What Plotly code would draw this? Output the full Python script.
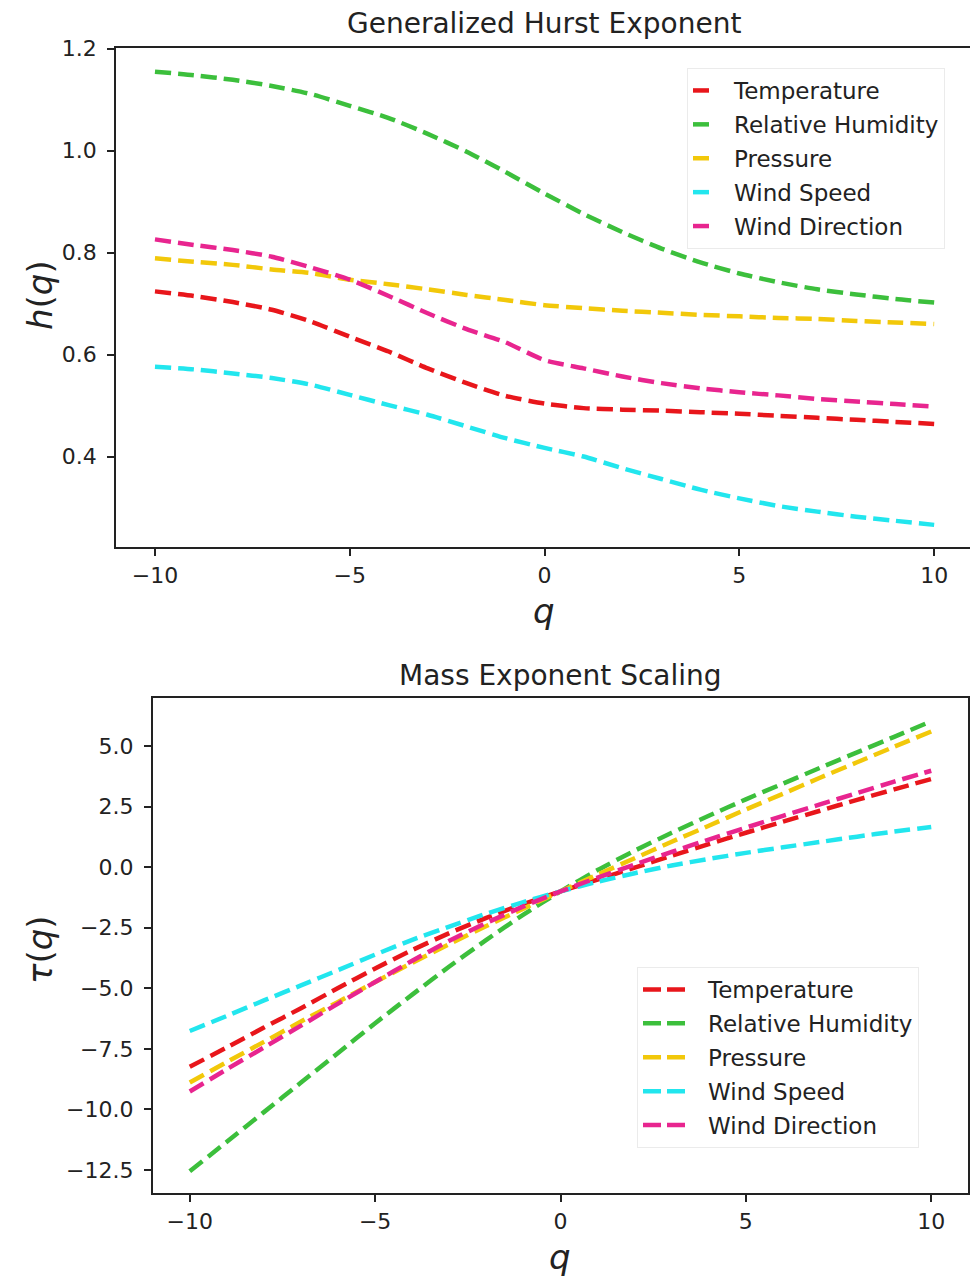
import plotly.graph_objects as go

W, H = 970, 1279

q = [-10, -9, -8, -7, -6, -5, -4, -3, -2, -1, 0, 1, 2, 3, 4, 5, 6, 7, 8, 9, 10]
names = ["Temperature", "Relative Humidity", "Pressure", "Wind Speed", "Wind Direction"]
colors = ["#e8161b", "#3cbf3c", "#f2c80a", "#22e6ee", "#e8258f"]

h_temperature = [0.724, 0.715, 0.703, 0.688, 0.665, 0.635, 0.606, 0.573, 0.544, 0.519, 0.504,
                 0.495, 0.492, 0.490, 0.487, 0.484, 0.480, 0.476, 0.472, 0.468, 0.464]
h_humidity = [1.155, 1.148, 1.139, 1.127, 1.111, 1.088, 1.064, 1.033, 0.998, 0.958, 0.916,
              0.876, 0.840, 0.808, 0.781, 0.759, 0.742, 0.728, 0.718, 0.709, 0.702]
h_pressure = [0.789, 0.782, 0.776, 0.767, 0.760, 0.747, 0.738, 0.728, 0.717, 0.707, 0.697,
              0.691, 0.686, 0.682, 0.678, 0.675, 0.672, 0.670, 0.666, 0.663, 0.660]
h_windspeed = [0.576, 0.571, 0.563, 0.554, 0.541, 0.521, 0.501, 0.482, 0.459, 0.436, 0.417,
               0.400, 0.377, 0.356, 0.335, 0.318, 0.303, 0.292, 0.282, 0.274, 0.266]
h_winddir = [0.826, 0.815, 0.805, 0.792, 0.771, 0.747, 0.715, 0.681, 0.650, 0.624, 0.589,
             0.573, 0.557, 0.544, 0.534, 0.526, 0.520, 0.513, 0.508, 0.503, 0.498]

tau_temperature = [-8.24, -7.44, -6.62, -5.82, -4.99, -4.18, -3.42, -2.72, -2.09, -1.52, -1.00,
                   -0.51, -0.02, 0.47, 0.95, 1.42, 1.88, 2.33, 2.78, 3.21, 3.64]
tau_humidity = [-12.55, -11.33, -10.11, -8.89, -7.67, -6.44, -5.26, -4.10, -3.00, -1.96, -1.00,
                -0.12, 0.68, 1.42, 2.12, 2.80, 3.45, 4.10, 4.74, 5.38, 6.02]
tau_pressure = [-8.89, -8.04, -7.21, -6.37, -5.56, -4.74, -3.95, -3.18, -2.43, -1.71, -1.00,
                -0.31, 0.37, 1.05, 1.71, 2.38, 3.03, 3.69, 4.33, 4.97, 5.60]
tau_windspeed = [-6.76, -6.14, -5.50, -4.88, -4.25, -3.61, -3.00, -2.45, -1.92, -1.44, -1.00,
                 -0.60, -0.25, 0.07, 0.34, 0.59, 0.82, 1.04, 1.26, 1.47, 1.66]
tau_winddir = [-9.26, -8.34, -7.44, -6.54, -5.63, -4.74, -3.86, -3.04, -2.30, -1.62, -1.00,
               -0.43, 0.11, 0.63, 1.14, 1.63, 2.12, 2.59, 3.06, 3.53, 3.98]

h_series = [h_temperature, h_humidity, h_pressure, h_windspeed, h_winddir]
tau_series = [tau_temperature, tau_humidity, tau_pressure, tau_windspeed, tau_winddir]

x_ticks = [-10, -5, 0, 5, 10]
h_ticks = [0.4, 0.6, 0.8, 1.0, 1.2]
tau_ticks = [-12.5, -10.0, -7.5, -5.0, -2.5, 0.0, 2.5, 5.0]

FONT = "DejaVu Sans"
INK = "#222222"
LW = 4.5
DASH = "16px,7px"

fig = go.Figure()

for name, col, ys in zip(names, colors, h_series):
    fig.add_trace(go.Scatter(x=q, y=ys, mode="lines", xaxis="x", yaxis="y",
                             line=dict(color=col, width=LW, dash=DASH, shape="spline", smoothing=0.6),
                             showlegend=False, hoverinfo="skip"))
for i, (name, col) in enumerate(zip(names, colors)):
    fig.add_trace(go.Scatter(x=[None], y=[None], mode="lines", xaxis="x", yaxis="y",
                             name=name, legend="legend", legendgroup="a%d" % i,
                             line=dict(color=col, width=LW, dash="16px,200px")))

for name, col, ys in zip(names, colors, tau_series):
    fig.add_trace(go.Scatter(x=q, y=ys, mode="lines", xaxis="x2", yaxis="y2",
                             line=dict(color=col, width=LW, dash=DASH, shape="spline", smoothing=0.6),
                             showlegend=False, hoverinfo="skip"))
for i, (name, col) in enumerate(zip(names, colors)):
    fig.add_trace(go.Scatter(x=[None], y=[None], mode="lines", xaxis="x2", yaxis="y2",
                             name=name, legend="legend2", legendgroup="b%d" % i,
                             line=dict(color=col, width=LW, dash="18px,6px,18px,200px")))

def px_x(p):
    return p / W

def px_y(p):
    return 1 - p / H

axis_common = dict(showline=True, linecolor=INK, linewidth=1.6, ticks="outside",
                   ticklen=7, tickwidth=1.6, tickcolor=INK, showgrid=False, zeroline=False,
                   automargin=False,
                   tickfont=dict(family=FONT, size=22, color=INK))

legend_common = dict(xanchor="left", yanchor="top", traceorder="grouped", tracegroupgap=1,
                     bgcolor="rgba(255,255,255,0.8)", bordercolor="#ebebeb", borderwidth=1,
                     font=dict(family=FONT, size=23, color=INK))

fig.update_layout(
    width=W, height=H,
    margin=dict(l=0, r=0, t=0, b=0, autoexpand=False),
    paper_bgcolor="white", plot_bgcolor="white",
    xaxis=dict(domain=[px_x(116), 1.0], range=[-11, 10.92], anchor="y",
               tickvals=x_ticks, mirror=True, **axis_common),
    yaxis=dict(domain=[px_y(547.3), px_y(48.3)], range=[0.222, 1.2008], anchor="x",
               tickvals=h_ticks, tickformat=".1f", ticklabelstandoff=6, **axis_common),
    xaxis2=dict(domain=[px_x(152.7), px_x(968.3)], range=[-11, 11], anchor="y2",
                tickvals=x_ticks, mirror=True, **axis_common),
    yaxis2=dict(domain=[px_y(1193.3), px_y(698.3)], range=[-13.46, 6.97], anchor="x2",
                tickvals=tau_ticks, tickformat=".1f", mirror=True, ticklabelstandoff=6,
                **axis_common),
    legend=dict(x=px_x(687), y=px_y(68), itemwidth=36, **legend_common),
    legend2=dict(x=px_x(637), y=px_y(967), itemwidth=60, **legend_common),
    annotations=[
        dict(text="Generalized Hurst Exponent", x=px_x(544), y=px_y(24), xref="paper", yref="paper",
             showarrow=False, xanchor="center", yanchor="middle",
             font=dict(family=FONT, size=28, color=INK)),
        dict(text="Mass Exponent Scaling", x=px_x(560), y=px_y(676), xref="paper", yref="paper",
             showarrow=False, xanchor="center", yanchor="middle",
             font=dict(family=FONT, size=28, color=INK)),
        dict(text="<i>q</i>", x=px_x(544), y=px_y(611), xref="paper", yref="paper",
             showarrow=False, xanchor="center", yanchor="middle",
             font=dict(family=FONT, size=34, color=INK)),
        dict(text="<i>q</i>", x=px_x(560), y=px_y(1257), xref="paper", yref="paper",
             showarrow=False, xanchor="center", yanchor="middle",
             font=dict(family=FONT, size=34, color=INK)),
        dict(text="<i>h</i>(<i>q</i>)", x=px_x(40), y=px_y(295), xref="paper", yref="paper",
             showarrow=False, xanchor="center", yanchor="middle", textangle=-90,
             font=dict(family=FONT, size=34, color=INK)),
        dict(text="<i>τ</i>(<i>q</i>)", x=px_x(40), y=px_y(950), xref="paper", yref="paper",
             showarrow=False, xanchor="center", yanchor="middle", textangle=-90,
             font=dict(family=FONT, size=34, color=INK)),
    ],
)

fig.write_html("out.html")
